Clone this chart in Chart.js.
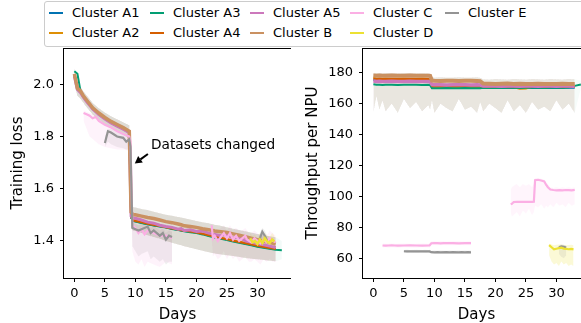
<!DOCTYPE html>
<html>
<head>
<meta charset="utf-8">
<script src="https://cdn.jsdelivr.net/npm/chart.js@4.4.1/dist/chart.umd.min.js"></script>
<style>
  html, body { margin: 0; padding: 0; background: #fff; }
  body { width: 581px; height: 323px; overflow: hidden; position: relative; font-family: "DejaVu Sans", sans-serif; }
  .panel { position: absolute; top: 48px; }
  #legend { position: absolute; left: 44px; top: 1px; width: 600px; height: 44px; border: 1px solid #ccc;
            border-radius: 3px; background: rgba(255,255,255,0.8); z-index: 2; }
  .item { position: absolute; font-size: 13px; color: #000; white-space: nowrap; line-height: 16px; }
  .item i { display: inline-block; width: 14px; height: 2px; vertical-align: middle; margin-right: 9px; position: relative; top: -1px; }
</style>
</head>
<body>
<div id="legend"></div>
<div class="panel" style="left:0px"><canvas id="lossChart" width="291" height="275"></canvas></div>
<div class="panel" style="left:299px"><canvas id="tputChart" width="291" height="275"></canvas></div>
<script>
// cluster names / colours (legend is column-major)
const clusterNames = ['Cluster A1','Cluster A2','Cluster A3','Cluster A4','Cluster A5','Cluster B','Cluster C','Cluster D','Cluster E'];
const clusterColors = ['#0173b2','#de8f05','#029e73','#d55e00','#cc78bc','#ca9161','#fbafe4','#ece133','#949494'];

const dayTicks = [0, 5, 10, 15, 20, 25, 30];
const lossTicks = [1.4, 1.6, 1.8, 2.0];
const tputTicks = [60, 80, 100, 120, 140, 160, 180];

// clusters A1..A5 and B share the same day grid
const mainDays = [0,0.5,1,1.5,2,3,4,5,6,7,8,9,9.3,9.6,10,11,12,13,14,15,16,17,17.5,18,19,20,21,22,23,24,25,26,27,28,29,30,31,32,33,34];

const lossA1 = [2.035,1.98,1.97,1.95,1.935,1.905,1.885,1.868,1.853,1.84,1.828,1.815,1.49,1.478,1.475,1.47,1.465,1.46,1.456,1.452,1.447,1.443,1.44,1.438,1.435,1.432,1.427,1.421,1.415,1.41,1.405,1.40,1.395,1.39,1.385,1.38,1.376,1.372,1.368,null];
const lossA2 = [2.038,1.982,1.972,1.952,1.937,1.907,1.887,1.87,1.855,1.842,1.83,1.817,1.495,1.48,1.478,1.472,1.467,1.462,1.458,1.453,1.449,1.445,1.442,1.44,1.437,1.433,1.428,1.423,1.418,1.412,1.407,1.402,1.397,1.392,1.387,1.382,1.378,1.374,1.37,null];
const lossA3 = [2.05,2.04,1.975,1.955,1.938,1.908,1.888,1.87,1.855,1.843,1.83,1.816,1.49,1.477,1.474,1.469,1.464,1.459,1.455,1.451,1.446,1.442,1.44,1.437,1.433,1.43,1.425,1.419,1.413,1.408,1.403,1.398,1.393,1.388,1.383,1.378,1.374,1.37,1.366,1.364];
const lossA4 = [2.036,1.981,1.971,1.951,1.936,1.906,1.886,1.869,1.854,1.841,1.829,1.816,1.492,1.479,1.476,1.471,1.466,1.461,1.457,1.452,1.448,1.444,1.441,1.439,1.436,1.432,1.427,1.422,1.417,1.411,1.406,1.401,1.396,1.391,1.386,1.381,1.377,1.373,1.369,null];
const lossA5 = [2.03,1.98,1.968,1.95,1.934,1.905,1.884,1.867,1.852,1.84,1.828,1.815,1.495,1.488,1.487,1.48,1.472,1.468,1.46,1.455,1.452,1.445,1.447,1.44,1.443,1.436,1.438,1.43,1.425,1.42,1.426,1.41,1.415,1.40,1.395,1.39,1.385,1.38,1.375,null];
const lossB  = [2.04,1.985,1.975,1.955,1.94,1.91,1.89,1.873,1.858,1.846,1.834,1.82,1.51,1.50,1.50,1.495,1.49,1.486,1.48,1.474,1.47,1.465,1.462,1.458,1.455,1.452,1.447,1.443,1.438,1.435,1.432,1.427,1.422,1.416,1.41,1.405,1.40,1.395,1.388,null];
const mainLossHigh = [2.065,2.005,1.99,1.972,1.958,1.928,1.908,1.892,1.878,1.866,1.855,1.843,1.56,1.53,1.528,1.522,1.518,1.512,1.506,1.50,1.496,1.492,1.49,1.487,1.482,1.476,1.472,1.468,1.462,1.458,1.452,1.447,1.442,1.437,1.432,1.427,1.422,1.418,1.414,1.40];
const mainLossLow  = [2.0,1.955,1.945,1.928,1.912,1.884,1.864,1.848,1.833,1.82,1.807,1.792,1.45,1.44,1.438,1.43,1.422,1.415,1.408,1.40,1.393,1.386,1.383,1.38,1.374,1.368,1.362,1.357,1.352,1.348,1.345,1.342,1.338,1.335,1.332,1.33,1.327,1.324,1.322,1.33];

const tputA1 = [175.5,175.2,175.3,175.4,175.2,175.3,175.1,175.2,175.3,175.2,175.1,175.2,175.0,170.4,170.3,170.2,170.3,170.2,170.1,170.3,170.2,170.1,170.2,170.3,170.2,170.3,170.1,170.2,170.3,170.2,170.4,170.2,170.3,170.2,170.1,170.3,170.2,170.4,170.3,null];
const tputA2 = [177.0,176.2,176.3,176.1,176.2,176.0,176.1,176.2,176.0,176.1,176.2,176.0,175.9,170.6,170.5,170.6,170.4,170.5,170.6,170.5,170.4,170.6,170.5,170.8,170.7,170.9,170.8,170.7,170.6,169.6,169.8,170.9,170.8,170.7,170.9,170.8,170.7,170.9,170.8,null];
const tputA3 = [172.5,172.2,172.3,172.1,172.2,172.3,172.1,172.2,172.3,172.2,172.1,172.2,172.0,170.0,169.9,170.0,170.1,169.9,170.0,170.1,170.0,169.9,170.0,170.3,170.2,170.3,170.2,170.4,170.3,170.2,170.3,170.4,170.3,170.2,170.3,170.4,170.3,170.5,171.5,172.4];
const tputA4 = [176.2,176.0,176.1,175.9,176.0,176.1,175.9,176.0,176.1,175.9,176.0,176.0,175.8,171.6,171.5,171.6,171.4,171.5,171.6,171.5,171.4,171.5,171.4,171.1,171.0,171.2,171.1,171.0,171.2,171.1,171.0,171.2,171.1,171.0,171.1,171.2,171.0,171.1,171.0,null];
const tputA5 = [174.6,174.4,174.5,174.3,174.4,174.5,174.3,174.4,174.5,174.3,174.4,174.3,174.2,172.3,172.2,172.3,172.1,172.2,172.3,172.2,172.1,172.2,172.1,171.5,171.4,171.5,171.3,171.4,171.5,171.3,171.4,171.5,171.3,171.4,171.5,171.3,171.4,171.5,171.3,null];
const tputB  = [178.2,178.1,178.2,178.0,178.1,178.2,178.0,178.1,178.2,178.0,178.1,178.0,177.9,174.9,174.8,174.7,174.9,174.8,174.7,174.8,174.9,174.7,174.6,173.0,172.9,172.8,172.9,173.0,172.8,172.9,172.7,172.8,172.9,172.8,172.7,172.8,172.9,172.7,172.8,null];
const mainTputHigh = [180.0,179.8,179.9,179.7,179.8,179.9,179.7,179.8,179.9,179.7,179.8,179.7,179.5,177.2,177.0,177.1,176.9,177.0,177.1,176.9,177.0,177.1,176.8,175.8,175.7,175.9,175.8,175.7,175.9,175.8,175.7,175.9,175.8,175.7,175.9,175.8,175.7,175.9,175.8,175.0];
const mainTputLow  = [154,165,156,162,155,160,154,163,157,161,155,159,156,162,154,160,157,155,163,156,158,154,161,155,160,157,154,162,155,159,154,161,156,158,155,162,156,160,154,170];

// Cluster C (two runs)
const cDays = [1.5,2,2.5,3,3.5,4,5,6,7,8,9,9.2,9.5,10,10.5,11,11.5,12,13,14,15,16,19,22.5,22.7,23,23.5,24,24.5,25,25.5,26,26.3,26.5,27,27.5,28,28.3,28.6,29,29.5,30,30.5,31,31.5,32,32.5,33];
const cLoss = [1.89,1.885,1.88,1.87,1.875,1.86,1.845,1.835,1.82,1.81,1.80,1.78,1.46,1.45,1.43,1.445,1.425,1.44,1.43,1.42,1.42,1.41,null,1.46,1.41,1.42,1.40,1.415,1.43,1.41,1.43,1.405,1.415,1.42,1.40,1.41,1.42,1.405,1.40,1.395,1.41,1.40,1.39,1.405,1.395,1.41,1.40,1.395];
const cLossHigh = [1.90,1.895,1.89,1.885,1.885,1.875,1.86,1.85,1.84,1.83,1.82,1.80,1.48,1.47,1.46,1.465,1.455,1.46,1.455,1.45,1.445,1.44,null,1.48,1.45,1.45,1.44,1.45,1.46,1.44,1.46,1.44,1.45,1.45,1.44,1.44,1.45,1.44,1.43,1.43,1.44,1.43,1.42,1.43,1.42,1.44,1.43,1.42];
const cLossLow = [1.86,1.83,1.80,1.79,1.78,1.77,1.76,1.755,1.75,1.75,1.745,1.72,1.36,1.32,1.31,1.33,1.30,1.32,1.31,1.30,1.32,1.31,null,1.40,1.34,1.35,1.33,1.34,1.36,1.33,1.35,1.33,1.34,1.34,1.32,1.33,1.34,1.33,1.32,1.32,1.33,1.32,1.31,1.33,1.32,1.33,1.32,1.32];
const cTput = [68.3,68.2,68.3,68.4,68.3,68.2,68.3,68.4,68.3,68.2,68.3,68.3,69.8,69.9,69.8,69.7,69.8,69.9,69.8,69.7,69.8,69.9,null,95.0,95.3,96.4,96.6,96.5,96.6,96.5,96.6,96.5,96.6,110.5,110.8,110.3,109.8,107.6,106.0,104.5,104.2,104.0,104.1,104.0,104.2,104.1,104.0,104.3];
const cTputHigh = [69.6,69.4,69.5,69.6,69.4,69.5,69.6,69.4,69.5,69.6,69.4,69.5,71.0,71.1,70.9,71.0,71.1,70.9,71.0,71.1,70.9,71.0,null,104,106,107,108,106,108,107,108,106,108,112,112,111.5,111,109,108,106,105.5,106,105.5,106,105.5,106,105.5,106];
const cTputLow = [67.0,67.2,66.8,67.1,67.0,66.9,67.1,67.0,66.8,67.1,67.0,66.9,68.5,68.6,68.4,68.5,68.6,68.4,68.5,68.6,68.4,68.5,null,90,87,88,90,87,91,89,92,88,90,94,93,95,92,94,93,95,93,96,94,95,93,96,94,95];

// Cluster D
const dDays = [28.8,29.2,29.6,30,30.4,30.8,31.2,31.6,32,32.4,32.8];
const dLoss = [1.41,1.395,1.40,1.388,1.405,1.392,1.41,1.398,1.392,1.405,1.398];
const dLossHigh = [1.43,1.42,1.425,1.41,1.43,1.415,1.43,1.42,1.415,1.43,1.42];
const dLossLow = [1.39,1.375,1.38,1.37,1.385,1.37,1.39,1.375,1.37,1.385,1.375];
const dTput = [68.6,67.2,65.8,66.2,66.6,66.9,66.3,66.1,65.9,66.1,65.8];
const dTputHigh = [69.5,69,68.5,68.8,69,69,68.7,68.5,68.6,68.8,68.5];
const dTputLow = [62,58,56,57,55,58,56,57,55,56,55];

// Cluster E (two runs)
const eDays = [5,5.5,6,7,8,8.5,9,9.2,9.5,10,10.5,11,12,12.5,13,14,14.5,15,15.5,16,20,30.4,30.8,31.2,31.6];
const eLoss = [1.775,1.82,1.815,1.80,1.795,1.78,1.79,1.76,1.45,1.445,1.44,1.445,1.455,1.43,1.44,1.42,1.43,1.405,1.42,1.415,null,1.41,1.435,1.42,1.40];
const eLossHigh = [1.80,1.83,1.83,1.815,1.81,1.80,1.805,1.78,1.47,1.465,1.46,1.465,1.47,1.45,1.46,1.44,1.45,1.43,1.44,1.435,null,1.43,1.45,1.44,1.42];
const eLossLow = [1.76,1.78,1.77,1.76,1.755,1.75,1.75,1.72,1.38,1.36,1.34,1.35,1.36,1.33,1.34,1.32,1.33,1.31,1.32,1.32,null,1.37,1.39,1.38,1.37];
const eTput = [64.6,64.5,64.6,64.5,64.6,64.5,64.6,64.5,64.0,63.9,64.0,63.9,64.0,63.9,64.0,63.9,64.0,63.9,64.0,63.9,null,67.0,67.8,67.5,67.0];
const eTputHigh = [65.4,65.5,65.4,65.5,65.4,65.5,65.4,65.5,64.9,65.0,64.9,65.0,64.9,65.0,64.9,65.0,64.9,65.0,64.9,65.0,null,68.5,69.0,68.8,68.3];
const eTputLow = [63.6,63.5,63.6,63.5,63.6,63.5,63.6,63.5,62.9,63.0,62.9,63.0,62.9,63.0,62.9,63.0,62.9,63.0,62.9,63.0,null,63,61,60,62];

const annotText = 'Datasets changed';
const annotTextAt = [12.55, 1.765];
const annotTailAt = [12.05, 1.733];
const annotTipAt = [9.9, 1.697];

const FONT = 'DejaVu Sans';

function rgba(hex, a) {
  const n = parseInt(hex.slice(1), 16);
  return `rgba(${n >> 16},${(n >> 8) & 255},${n & 255},${a})`;
}
function pts(xs, ys, mask) {
  return xs.map((x, i) => ({x: x, y: (mask && mask[i] == null) ? null : ys[i]}));
}

// series: [name, days, mean, low, high, bandAlpha, lineWidth]
function buildDatasets(series) {
  const ds = [];
  series.forEach(s => {
    const col = clusterColors[clusterNames.indexOf(s[0])];
    ds.push({data: pts(s[1], s[3], s[2]), borderWidth: 0, pointRadius: 0, fill: false, order: 100});
    ds.push({data: pts(s[1], s[4], s[2]), borderWidth: 0, pointRadius: 0, fill: '-1',
             backgroundColor: rgba(col, s[5]), order: 100});
  });
  series.forEach((s, i) => {
    const col = clusterColors[clusterNames.indexOf(s[0])];
    ds.push({label: s[0], data: pts(s[1], s[2]), borderColor: col, borderWidth: s[6],
             pointRadius: 0, fill: false, order: 50 - i});
  });
  return ds;
}

const framePlugin = {
  id: 'frame',
  afterDatasetsDraw(chart) {
    const a = chart.chartArea, c = chart.ctx;
    c.save();
    c.strokeStyle = '#000'; c.lineWidth = 1;
    c.strokeRect(a.left - 0.5, a.top + 0.5, a.right - a.left + 1, a.bottom - a.top);
    c.restore();
  }
};

const annotPlugin = {
  id: 'annot',
  afterDatasetsDraw(chart) {
    const {ctx, scales: {x, y}} = chart;
    const tx = x.getPixelForValue(annotTextAt[0]), ty = y.getPixelForValue(annotTextAt[1]);
    const ax = x.getPixelForValue(annotTailAt[0]), ay = y.getPixelForValue(annotTailAt[1]);
    const hx = x.getPixelForValue(annotTipAt[0]), hy = y.getPixelForValue(annotTipAt[1]);
    ctx.save();
    ctx.fillStyle = '#000';
    ctx.font = '13.7px "' + FONT + '"';
    ctx.textBaseline = 'middle';
    ctx.fillText(annotText, tx, ty);
    const ang = Math.atan2(hy - ay, hx - ax);
    const L = 7, W = 4;
    const bx = hx - L * Math.cos(ang), by = hy - L * Math.sin(ang);
    ctx.strokeStyle = '#000'; ctx.lineWidth = 2;
    ctx.beginPath(); ctx.moveTo(ax, ay); ctx.lineTo(bx, by); ctx.stroke();
    ctx.beginPath();
    ctx.moveTo(hx, hy);
    ctx.lineTo(bx + W * Math.sin(ang), by - W * Math.cos(ang));
    ctx.lineTo(bx - W * Math.sin(ang), by + W * Math.cos(ang));
    ctx.closePath(); ctx.fill();
    ctx.restore();
  }
};

function makeOptions(yMin, yMax, yTicks, yTitle, yTitlePad) {
  const tickFont = {family: FONT, size: 13};
  const titleFont = {family: FONT, size: 15};
  return {
    responsive: false,
    animation: false,
    layout: {padding: 0},
    plugins: {legend: {display: false}, tooltip: {enabled: false}},
    elements: {line: {tension: 0}},
    scales: {
      x: {
        type: 'linear', min: -1.7, max: 35.5,
        afterBuildTicks: s => { s.ticks = dayTicks.map(v => ({value: v})); },
        afterFit: s => { s.height = 45; s.paddingLeft = 0; s.paddingRight = 0; },
        grid: {drawOnChartArea: false, drawTicks: true, tickLength: 4, color: '#000'},
        border: {display: false},
        ticks: {color: '#000', font: tickFont, padding: 4, maxRotation: 0},
        title: {display: true, text: 'Days', color: '#000', font: titleFont, padding: {top: 0, bottom: -1}}
      },
      y: {
        type: 'linear', min: yMin, max: yMax,
        afterBuildTicks: s => { s.ticks = yTicks.map(v => ({value: v})); },
        afterFit: s => { s.width = 64; s.paddingTop = 0; s.paddingBottom = 0; },
        grid: {drawOnChartArea: false, drawTicks: true, tickLength: 4, color: '#000'},
        border: {display: false},
        ticks: {color: '#000', font: tickFont, padding: 6,
                callback: v => (yTicks[0] < 10 ? v.toFixed(1) : String(v))},
        title: {display: true, text: yTitle, color: '#000', font: titleFont, padding: {top: yTitlePad, bottom: 0}}
      }
    }
  };
}

const lossSeries = [
  ['Cluster A1', mainDays, lossA1, mainLossLow, mainLossHigh, 0.05, 2],
  ['Cluster A2', mainDays, lossA2, mainLossLow, mainLossHigh, 0.05, 2],
  ['Cluster A3', mainDays, lossA3, mainLossLow, mainLossHigh, 0.05, 2],
  ['Cluster A4', mainDays, lossA4, mainLossLow, mainLossHigh, 0.05, 2],
  ['Cluster A5', mainDays, lossA5, mainLossLow, mainLossHigh, 0.05, 3],
  ['Cluster B',  mainDays, lossB,  mainLossLow, mainLossHigh, 0.05, 3.5],
  ['Cluster C',  cDays, cLoss, cLossLow, cLossHigh, 0.15, 2.2],
  ['Cluster E',  eDays, eLoss, eLossLow, eLossHigh, 0.15, 2.2],
  ['Cluster D',  dDays, dLoss, dLossLow, dLossHigh, 0.2, 2.5]
];
const tputSeries = [
  ['Cluster A1', mainDays, tputA1, mainTputLow, mainTputHigh, 0.035, 2],
  ['Cluster A2', mainDays, tputA2, mainTputLow, mainTputHigh, 0.035, 2],
  ['Cluster A3', mainDays, tputA3, mainTputLow, mainTputHigh, 0.035, 2],
  ['Cluster A4', mainDays, tputA4, mainTputLow, mainTputHigh, 0.035, 2],
  ['Cluster A5', mainDays, tputA5, mainTputLow, mainTputHigh, 0.035, 3.5],
  ['Cluster B',  mainDays, tputB,  mainTputLow, mainTputHigh, 0.035, 4],
  ['Cluster C',  cDays, cTput, cTputLow, cTputHigh, 0.12, 2.2],
  ['Cluster E',  eDays, eTput, eTputLow, eTputHigh, 0.15, 2.2],
  ['Cluster D',  dDays, dTput, dTputLow, dTputHigh, 0.2, 2.2]
];

new Chart(document.getElementById('lossChart'), {
  type: 'line',
  data: {datasets: buildDatasets(lossSeries)},
  options: makeOptions(1.258, 2.139, lossTicks, 'Training loss', 9.3),
  plugins: [framePlugin, annotPlugin]
});

new Chart(document.getElementById('tputChart'), {
  type: 'line',
  data: {datasets: buildDatasets(tputSeries)},
  options: makeOptions(47.3, 196, tputTicks, 'Throughput per NPU', 4.7),
  plugins: [framePlugin]
});

// legend, column-major like the original figure
const legendCols = [4, 105, 205, 305, 400];
const legendRows = [3, 23];
const legend = document.getElementById('legend');
clusterNames.forEach((name, i) => {
  const el = document.createElement('div');
  el.className = 'item';
  el.style.left = legendCols[Math.floor(i / 2)] + 'px';
  el.style.top = legendRows[i % 2] + 'px';
  el.innerHTML = '<i style="background:' + clusterColors[i] + '"></i>' + name;
  legend.appendChild(el);
});
</script>
</body>
</html>
